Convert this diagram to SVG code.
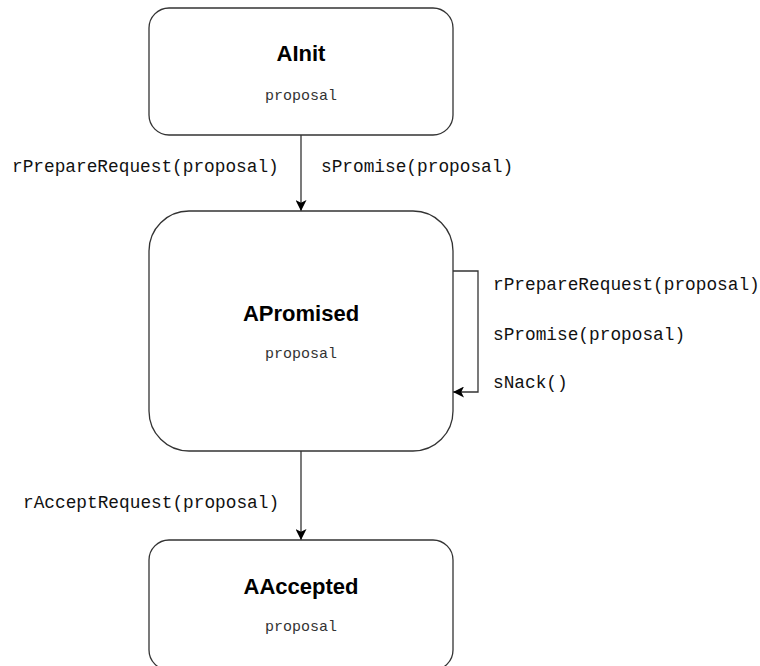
<svg xmlns="http://www.w3.org/2000/svg" width="760" height="666" viewBox="0 0 760 666">
<defs>
<style>
.box{fill:#fff;stroke:#333;stroke-width:1.3}
.title{font-family:"Liberation Sans",Arial,sans-serif;font-weight:bold;font-size:22px;fill:#000;text-anchor:middle}
.var{font-family:"Liberation Mono","DejaVu Sans Mono",monospace;font-size:15px;fill:#333;text-anchor:middle}
.lbl{font-family:"Liberation Mono","DejaVu Sans Mono",monospace;font-size:17.8px;fill:#111}
.edge{fill:none;stroke:#333;stroke-width:1.3}
</style>
<marker id="arr" viewBox="0 0 10 10" refX="10" refY="5" markerWidth="11" markerHeight="11" markerUnits="userSpaceOnUse" orient="auto">
<path d="M0,0 L10,5 L0,10 L2.5,5 Z" fill="#000"/>
</marker>
</defs>
<rect width="760" height="666" fill="#fff"/>
<g id="connectors">
<line class="edge" x1="301" y1="135" x2="301" y2="211" marker-end="url(#arr)"/>
<line class="edge" x1="301" y1="451" x2="301" y2="540" marker-end="url(#arr)"/>
<path class="edge" d="M453,271 H478 V392 H453" marker-end="url(#arr)"/>
<text class="lbl" x="12" y="172">rPrepareRequest(proposal)</text>
<text class="lbl" x="321" y="172">sPromise(proposal)</text>
<text class="lbl" x="493" y="290">rPrepareRequest(proposal)</text>
<text class="lbl" x="493" y="340">sPromise(proposal)</text>
<text class="lbl" x="493" y="388">sNack()</text>
<text class="lbl" x="23" y="508">rAcceptRequest(proposal)</text>
</g>
<g id="AInit">
<rect class="box" x="149" y="8" width="304" height="127" rx="20" ry="20"/>
<text class="title" x="301" y="61">AInit</text>
<text class="var" x="301" y="100">proposal</text>
</g>
<g id="APromised">
<rect class="box" x="149" y="211" width="304" height="240" rx="40" ry="40"/>
<text class="title" x="301" y="321">APromised</text>
<text class="var" x="301" y="358">proposal</text>
</g>
<g id="AAccepted">
<rect class="box" x="149" y="540" width="304" height="130" rx="20" ry="20"/>
<text class="title" x="301" y="594">AAccepted</text>
<text class="var" x="301" y="631">proposal</text>
</g>
</svg>
